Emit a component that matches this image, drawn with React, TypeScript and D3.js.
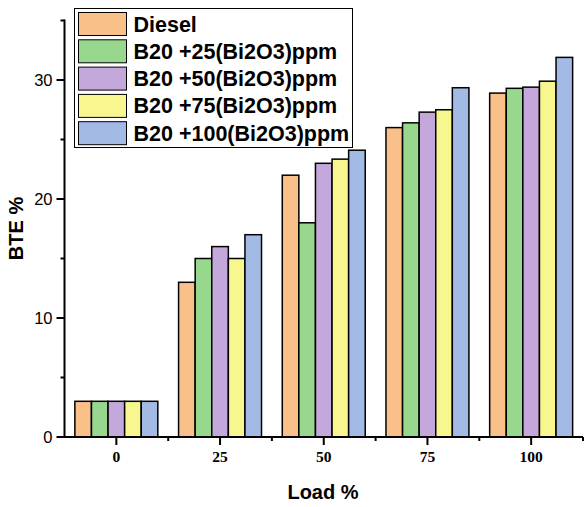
import React from "react";
import * as d3 from "d3";

// loads on the x axis
const loads: string[] = ["0", "25", "50", "75", "100"];

// series names (legend order)
const seriesNames: string[] = [
  "Diesel",
  "B20 +25(Bi2O3)ppm",
  "B20 +50(Bi2O3)ppm",
  "B20 +75(Bi2O3)ppm",
  "B20 +100(Bi2O3)ppm",
];

// BTE % per series, one value per load
const diesel: number[] = [3, 13, 22, 26, 28.9];
const b25: number[] = [3, 15, 18, 26.4, 29.3];
const b50: number[] = [3, 16, 23, 27.3, 29.4];
const b75: number[] = [3, 15, 23.35, 27.5, 29.9];
const b100: number[] = [3, 17, 24.1, 29.35, 31.9];

const yMajorTicks: number[] = [0, 10, 20, 30];
const yMinorTicks: number[] = [5, 15, 25, 35];

const colors: string[] = ["#F9C089", "#98D88E", "#C4A8DC", "#F8F68E", "#A2BAE4"];

const W = 588;
const H = 507;
const left = 64.5;
const right = 583;
const top = 20.5;
const bottom = 437;

const App: React.FC = () => {
  const series = [diesel, b25, b50, b75, b100];

  const x = d3.scaleBand<string>().domain(loads).range([left, right]).paddingInner(0.2).paddingOuter(0.1);
  const xInner = d3
    .scaleBand<number>()
    .domain(d3.range(seriesNames.length))
    .range([0, x.bandwidth()]);
  const y = d3.scaleLinear().domain([0, 35]).range([bottom, top]);

  const step = x.step();
  const minorX = d3.range(loads.length + 1).map((i) => left + i * step);

  const sans = "Arial, 'Liberation Sans', sans-serif";
  const serif = "'Times New Roman', 'Liberation Serif', serif";

  return (
    <svg width={W} height={H} style={{ position: "absolute", left: 0, top: 0, background: "#fff" }}>
      {/* bars */}
      {loads.map((load, i) => (
        <g key={load} transform={`translate(${x(load)},0)`}>
          {series.map((vals, s) => (
            <rect
              key={s}
              x={xInner(s)}
              y={y(vals[i])}
              width={xInner.bandwidth()}
              height={y(0) - y(vals[i])}
              fill={colors[s]}
              stroke="#000"
              strokeWidth={1.5}
            />
          ))}
        </g>
      ))}

      {/* y axis */}
      <line x1={left} x2={left} y1={top - 1} y2={bottom + 1} stroke="#000" strokeWidth={2} />
      {yMajorTicks.map((t) => (
        <g key={t}>
          <line x1={left - 8} x2={left} y1={y(t)} y2={y(t)} stroke="#000" strokeWidth={2} />
          <text x={left - 12} y={y(t)} dy="0.36em" textAnchor="end" fontFamily={sans} fontSize={16.5}>
            {t}
          </text>
        </g>
      ))}
      {yMinorTicks.map((t) => (
        <line key={t} x1={left - 4} x2={left} y1={y(t)} y2={y(t)} stroke="#000" strokeWidth={2} />
      ))}

      {/* x axis */}
      <line x1={left - 1} x2={right} y1={bottom} y2={bottom} stroke="#000" strokeWidth={2} />
      {loads.map((load) => {
        const cx = (x(load) as number) + x.bandwidth() / 2;
        return (
          <g key={load}>
            <line x1={cx} x2={cx} y1={bottom} y2={bottom + 8} stroke="#000" strokeWidth={2} />
            <text x={cx} y={462} textAnchor="middle" fontFamily={serif} fontWeight="bold" fontSize={15.5}>
              {load}
            </text>
          </g>
        );
      })}
      {minorX.slice(1).map((mx, i) => (
        <line key={i} x1={mx} x2={mx} y1={bottom} y2={bottom + 4} stroke="#000" strokeWidth={2} />
      ))}

      {/* axis titles */}
      <text x={323} y={499} textAnchor="middle" fontFamily={sans} fontWeight="bold" fontSize={20}>
        Load %
      </text>
      <text
        transform={`translate(23,${228.5}) rotate(-90)`}
        textAnchor="middle"
        fontFamily={sans}
        fontWeight="bold"
        fontSize={20}
      >
        BTE %
      </text>

      {/* legend */}
      <g transform="translate(74.5,8.5)">
        <rect width={278} height={139} fill="#fff" stroke="#000" strokeWidth={1} />
        {seriesNames.map((name, s) => (
          <g key={name} transform={`translate(4,${4 + s * 27.3})`}>
            <rect width={48} height={23} fill={colors[s]} stroke="#000" strokeWidth={1} />
            <text x={55} y={19} fontFamily={sans} fontWeight="bold" fontSize={21.5}>
              {name}
            </text>
          </g>
        ))}
      </g>
    </svg>
  );
};

export default App;
